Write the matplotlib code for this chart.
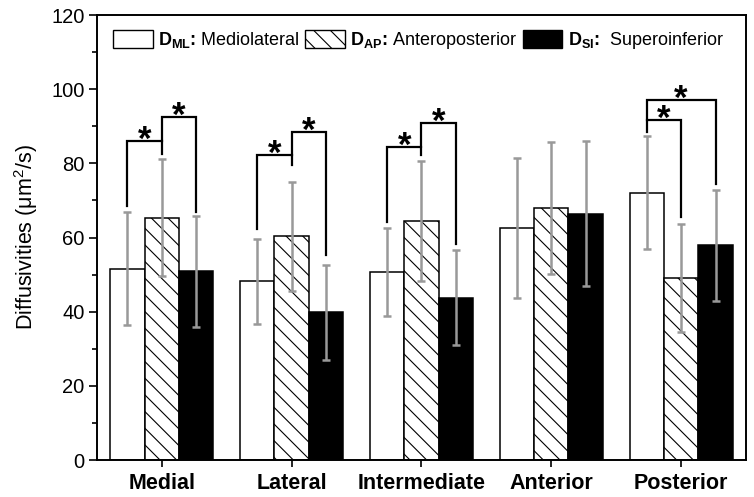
import matplotlib
matplotlib.use("Agg")
import matplotlib.pyplot as plt
import numpy as np
from matplotlib.patches import Patch

plt.rcParams['font.family'] = ['Liberation Sans', 'DejaVu Sans']
plt.rcParams['mathtext.fontset'] = 'custom'
plt.rcParams['mathtext.rm'] = 'Liberation Sans'
plt.rcParams['mathtext.bf'] = 'Liberation Sans:bold'
plt.rcParams['mathtext.it'] = 'Liberation Sans:italic'
plt.rcParams['hatch.linewidth'] = 0.8

categories = ["Medial", "Lateral", "Intermediate", "Anterior", "Posterior"]
series_names = [r"$\mathbf{D_{ML}\colon}$ Mediolateral",
                r"$\mathbf{D_{AP}\colon}$ Anteroposterior",
                r"$\mathbf{D_{SI}\colon}$  Superoinferior"]
d_ml = [51.6, 48.2, 50.7, 62.6, 72.1]
d_ap = [65.3, 60.3, 64.4, 68.0, 49.1]
d_si = [50.9, 39.8, 43.8, 66.4, 57.9]
err_ml = [15.2, 11.4, 11.8, 18.9, 15.3]
err_ap = [15.8, 14.8, 16.1, 17.8, 14.5]
err_si = [15.0, 12.9, 12.7, 19.6, 14.9]

# significance brackets: (category, bar_i, bar_j, height, bottom_i, bottom_j)
brackets = [
    (0, 0, 1, 86.0, 68.6, 82.4),
    (0, 1, 2, 92.5, 86.0, 67.0),
    (1, 0, 1, 82.3, 62.2, 79.5),
    (1, 1, 2, 88.5, 82.3, 55.4),
    (2, 0, 1, 84.4, 64.1, 82.2),
    (2, 1, 2, 90.8, 84.4, 58.3),
    (4, 0, 1, 91.7, 88.5, 65.5),
    (4, 0, 2, 97.1, 91.7, 74.3),
]

fig = plt.figure(figsize=(7.54, 4.97), dpi=100)
ax = fig.add_axes([0.1286, 0.0744, 0.8608, 0.8954])

x = np.arange(len(categories))
w = 0.265
values = [d_ml, d_ap, d_si]
errors = [err_ml, err_ap, err_si]
faces = ['white', 'white', 'black']
hatches = [None, '\\\\', None]
for i in range(3):
    ax.bar(x + (i - 1) * w, values[i], width=w, color=faces[i], edgecolor='black',
           linewidth=1.1, hatch=hatches[i], zorder=2)
for i in range(3):
    ax.errorbar(x + (i - 1) * w, values[i], yerr=errors[i], fmt='none',
                ecolor='#999999', elinewidth=1.8, capsize=3.2, capthick=1.8, zorder=3)

for (c, bi, bj, h, yb_i, yb_j) in brackets:
    xi = c + (bi - 1) * w
    xj = c + (bj - 1) * w
    ax.plot([xi, xi, xj, xj], [yb_i, h, h, yb_j], color='black', lw=1.6,
            solid_joinstyle='miter', zorder=4)
    ax.annotate('*', xy=((xi + xj) / 2, h), xytext=(0, -6.5), textcoords='offset points',
                ha='center', va='baseline', fontsize=25, fontweight='bold', zorder=5)

ax.set_xlim(-0.5, len(categories) - 0.5)
ax.set_ylim(0, 120)
ax.set_yticks(np.arange(0, 121, 20))
ax.set_yticks(np.arange(10, 120, 20), minor=True)
ax.set_xticks(x)
ax.set_xticklabels(categories, fontsize=15.5, fontweight='bold')
ax.tick_params(axis='y', which='major', direction='out', length=6, width=1.2, labelsize=14.5, pad=3)
ax.tick_params(axis='y', which='minor', direction='out', length=3.5, width=1.2)
ax.tick_params(axis='x', which='major', direction='out', length=5, width=1.2, pad=4)
for s in ax.spines.values():
    s.set_linewidth(1.4)
ax.set_ylabel("Diffusivities (μm$^2$/s)", fontsize=15.5, labelpad=8)

handles = [Patch(facecolor='white', edgecolor='black', linewidth=1.0),
           Patch(facecolor='white', edgecolor='black', linewidth=1.0, hatch='\\\\'),
           Patch(facecolor='black', edgecolor='black', linewidth=1.0)]
ax.legend(handles, series_names, loc='upper left', bbox_to_anchor=(0.005, 0.995),
          ncol=3, frameon=False, fontsize=13, handlelength=2.2, handleheight=1.2,
          handletextpad=0.3, columnspacing=0.3, borderaxespad=0.3)

fig.savefig("out.png", dpi=100)
